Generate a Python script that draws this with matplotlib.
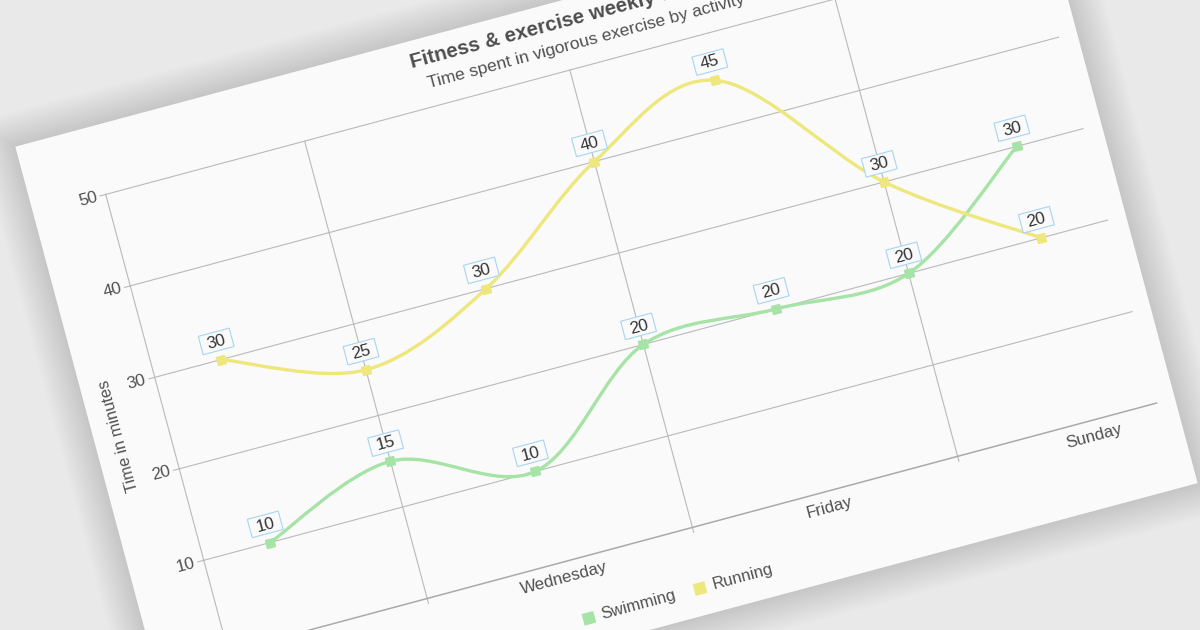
import numpy as np
import matplotlib
matplotlib.use("Agg")
import matplotlib.pyplot as plt
from matplotlib.path import Path
from matplotlib.patches import PathPatch, Rectangle
from matplotlib.markers import MarkerStyle
from matplotlib.transforms import Affine2D

plt.rcParams['font.family'] = ['Liberation Sans', 'DejaVu Sans']

# chart data
days = ['Monday', 'Tuesday', 'Wednesday', 'Thursday', 'Friday', 'Saturday', 'Sunday']
swimming = [10, 15, 10, 20, 20, 20, 30]
running = [30, 25, 30, 40, 45, 30, 20]
y_ticks = [0, 10, 20, 30, 40, 50]
series_names = ['Swimming', 'Running']
series_colors = ['#a6e3a6', '#ede77c']

title = 'Fitness & exercise weekly summary'
subtitle = 'Time spent in vigorous exercise by activity'
y_title = 'Time in minutes'

# flat card layout in px (before the card is turned)
CARD_W, CARD_H = 1055, 631
PL, PR, PT, PB = 75, 1036, 69.5, 543
ANGLE = 15
ORIGIN = (15.3, 146.7)
W, H = 1200, 630
GRID = '#b9b9b9'
TXT = '#505050'


def smooth_path(xs, ys):
    # catmull-rom through the points, written as cubic bezier pieces
    pts = np.column_stack([xs, ys]).astype(float)
    ext = np.vstack([pts[:1], pts, pts[-1:]])
    verts = [pts[0]]
    codes = [Path.MOVETO]
    for i in range(len(pts) - 1):
        p0, p1, p2, p3 = ext[i], ext[i + 1], ext[i + 2], ext[i + 3]
        verts += [p1 + (p2 - p0) / 6, p2 - (p3 - p1) / 6, p2]
        codes += [Path.CURVE4] * 3
    return Path(verts, codes)


fig = plt.figure(figsize=(W / 100, H / 100), dpi=100, facecolor='#e9e9e9')
ax = fig.add_axes([0, 0, 1, 1])
ax.set_xlim(0, W)
ax.set_ylim(H, 0)
ax.axis('off')

turn = Affine2D().rotate_deg(-ANGLE).translate(*ORIGIN)
card = turn + ax.transData
n = len(days)
ymax = max(y_ticks)
sy = (PB - PT) / ymax
to_flat = Affine2D().translate(0.5, 0).scale((PR - PL) / n, -sy).translate(PL, PB)
data = to_flat + card


def visible(u, v, margin=8):
    x, y = turn.transform((u, v))
    return margin < x < W - margin and margin < y < H - margin


# soft shadow + card
for k in range(1, 36):
    ax.add_patch(Rectangle((-k, -k), CARD_W + 2 * k, CARD_H + 2 * k, fc='black',
                           alpha=0.0042, lw=0, transform=card, zorder=0.5))
ax.add_patch(Rectangle((0, 0), CARD_W, CARD_H, fc='#fafafa', lw=0, transform=card, zorder=1))

# grid and axes
for yv in y_ticks[1:]:
    ax.plot([-0.5, n - 0.5], [yv, yv], color=GRID, lw=0.8, transform=data, zorder=2)
tick_len = 5 / sy
for i in range(1, n, 2):
    ax.plot([i, i], [-tick_len, ymax], color=GRID, lw=0.8, transform=data, zorder=2)
ax.plot([-0.5, -0.5], [0, ymax], color=GRID, lw=0.8, transform=data, zorder=2)
ax.plot([-0.5, n - 0.5], [0, 0], color='#aaaaaa', lw=1.1, transform=data, zorder=2)

for yv in y_ticks:
    u, v = to_flat.transform((-0.5, yv))
    ax.plot([u - 6, u], [v, v], color=GRID, lw=0.8, transform=card, zorder=2)
    if visible(u - 20, v):
        ax.text(u - 9, v, str(yv), ha='right', va='center', fontsize=12.3, color=TXT,
                rotation=ANGLE, rotation_mode='anchor', transform=card, zorder=3)

for i in range(0, n, 2):
    u, v = to_flat.transform((i, 0))
    if visible(u, v + 16):
        ax.text(u, v + 16, days[i], ha='center', va='center', fontsize=12.2, color=TXT,
                rotation=ANGLE, rotation_mode='anchor', transform=card, zorder=3)

ax.text(25, (PT + PB) / 2, y_title, ha='center', va='center', fontsize=11.8, color=TXT,
        rotation=90 + ANGLE, rotation_mode='anchor', transform=card, zorder=3)

# series
xs = np.arange(n)
for vals, color in zip([swimming, running], series_colors):
    ax.add_patch(PathPatch(smooth_path(xs, vals), fc='none', ec=color, lw=2.4,
                           transform=data, zorder=4, capstyle='round'))
    ax.plot(xs, vals, ls='none', marker=MarkerStyle('s', transform=Affine2D().rotate_deg(ANGLE)),
            ms=5.8, color=color, transform=data, zorder=5)

# value labels
for vals in [swimming, running]:
    for i, val in enumerate(vals):
        u, v = to_flat.transform((i, val))
        ax.add_patch(Rectangle((u - 16, v - 28.3), 32, 19, fc='#fafafa', ec='#a6d5f2',
                               lw=0.8, transform=card, zorder=6))
        ax.text(u, v - 18.3, str(val), ha='center', va='center', fontsize=12.3,
                color='#333333', rotation=ANGLE, rotation_mode='anchor',
                transform=card, zorder=7)

# titles
ax.text(403, 27, title, ha='left', va='baseline', fontsize=14.8, fontweight='bold',
        color='#4d4d4d', rotation=ANGLE, rotation_mode='anchor', transform=card, zorder=3)
ax.text(415, 50.7, subtitle, ha='left', va='baseline', fontsize=12.6, color=TXT,
        rotation=ANGLE, rotation_mode='anchor', transform=card, zorder=3)

# legend
for name, color, lu in zip(series_names, series_colors, [432, 547]):
    ax.add_patch(Rectangle((lu - 6, 598), 12, 12, fc=color, lw=0, transform=card, zorder=3))
    ax.text(lu + 13, 604, name, ha='left', va='center', fontsize=12, color=TXT,
            rotation=ANGLE, rotation_mode='anchor', transform=card, zorder=3)

fig.savefig('out.png', dpi=100, facecolor=fig.get_facecolor())
